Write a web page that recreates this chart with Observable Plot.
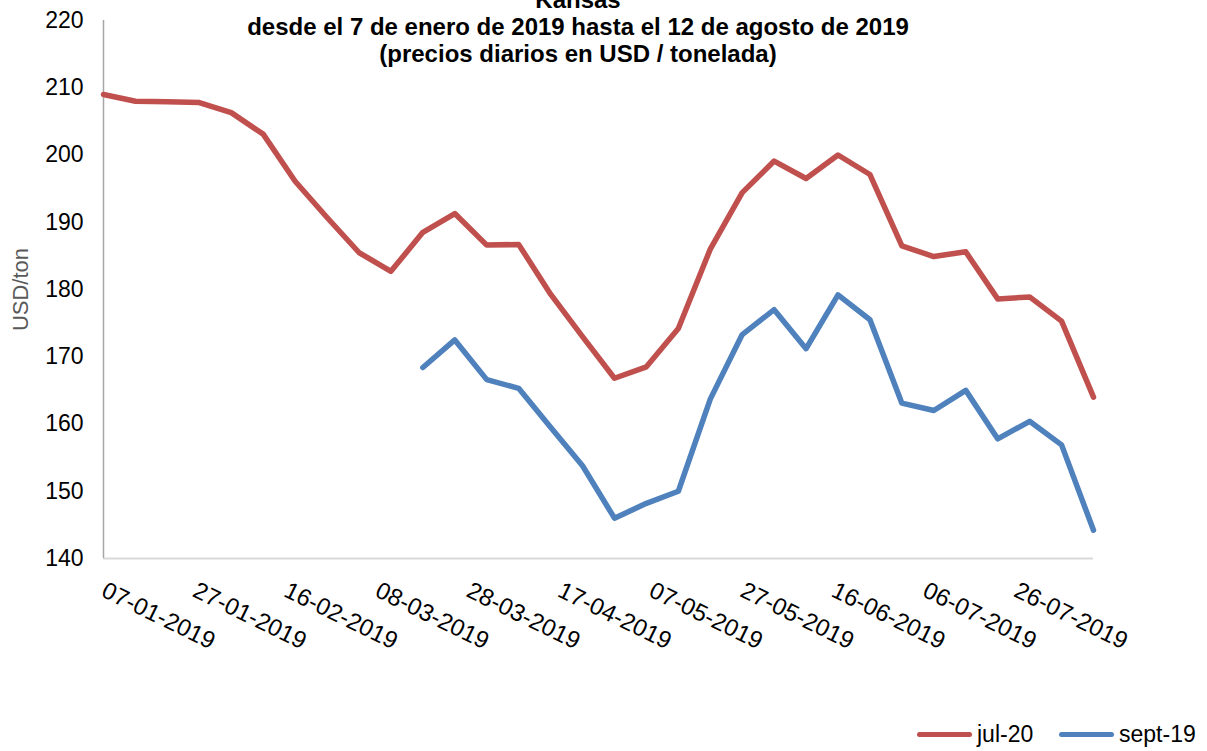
<!DOCTYPE html>
<html>
<head>
<meta charset="utf-8">
<script src="https://cdn.jsdelivr.net/npm/d3@7"></script>
<script src="https://cdn.jsdelivr.net/npm/@observablehq/plot@0.6"></script>
<style>
  html, body { margin: 0; padding: 0; background: #fff; }
  #wrap { position: relative; width: 1207px; height: 751px; overflow: hidden; font-family: "Liberation Sans", Arial, sans-serif; }
  #title { position: absolute; left: 0; top: -14px; width: 1156px; text-align: center; font-weight: bold; font-size: 24px; line-height: 27px; color: #000; white-space: nowrap; }
  .leg { position: absolute; top: 719px; height: 30px; display: flex; align-items: center; font-size: 23px; color: #000; white-space: nowrap; }
  .sw { display: inline-block; width: 55px; height: 5px; border-radius: 3px; margin-right: 5px; }
</style>
</head>
<body>
<div id="wrap">
  <div id="chart"></div>
  <div id="title"></div>
  <div id="legend"></div>
</div>
<script>
const titleLines = [
  "Kansas",
  "desde el 7 de enero de 2019 hasta el 12 de agosto de 2019",
  "(precios diarios en USD / tonelada)"
];
const yLabel = "USD/ton";

const dates = [
  "2019-01-07","2019-01-14","2019-01-21","2019-01-28","2019-02-04","2019-02-11","2019-02-18","2019-02-25",
  "2019-03-04","2019-03-11","2019-03-18","2019-03-25","2019-04-01","2019-04-08","2019-04-15","2019-04-22",
  "2019-04-29","2019-05-06","2019-05-13","2019-05-20","2019-05-27","2019-06-03","2019-06-10","2019-06-17",
  "2019-06-24","2019-07-01","2019-07-08","2019-07-15","2019-07-22","2019-07-29","2019-08-05","2019-08-12"
];

const seriesNames = ["jul-20", "sept-19"];
const seriesColors = ["#c0504d", "#4f81bd"];

const jul20 = [
  209.0, 208.0, 207.9, 207.8, 206.3, 203.1, 196.1, 190.7,
  185.5, 182.7, 188.5, 191.3, 186.6, 186.7, 179.3, 173.0,
  166.8, 168.5, 174.2, 186.0, 194.4, 199.1, 196.5, 200.0,
  197.1, 186.5, 184.9, 185.6, 178.6, 178.9, 175.3, 164.0
];
const sept19 = [
  null, null, null, null, null, null, null, null,
  null, null, 168.4, 172.5, 166.6, 165.3, 159.5, 153.8,
  146.0, 148.2, 150.0, 163.7, 173.3, 177.0, 171.2, 179.2,
  175.5, 163.1, 162.0, 165.0, 157.8, 160.4, 156.9, 144.2
];

const xTicks = [
  "2019-01-07","2019-01-27","2019-02-16","2019-03-08","2019-03-28","2019-04-17",
  "2019-05-07","2019-05-27","2019-06-16","2019-07-06","2019-07-26"
];
const yTicks = [140, 150, 160, 170, 180, 190, 200, 210, 220];

const parse = d3.utcParse("%Y-%m-%d");
const fmt = d3.utcFormat("%d-%m-%Y");
const seriesValues = [jul20, sept19];

const rows = [];
seriesNames.forEach((name, s) => {
  seriesValues[s].forEach((v, i) => {
    if (v != null) rows.push({ date: parse(dates[i]), value: v, series: name });
  });
});

const x0 = parse(dates[0]);
const x1 = parse(dates[dates.length - 1]);

const chart = Plot.plot({
  width: 1207,
  height: 700,
  marginLeft: 103,
  marginRight: 114,
  marginTop: 20,
  marginBottom: 142,
  style: { fontFamily: "'Liberation Sans', Arial, sans-serif", fontSize: "23px", color: "#000", background: "transparent", overflow: "visible" },
  x: { type: "utc", domain: [x0, x1] },
  y: { domain: [140, 220] },
  color: { domain: seriesNames, range: seriesColors },
  marks: [
    Plot.ruleY([140], { stroke: "#d9d9d9", strokeWidth: 2 }),
    Plot.ruleX([x0], { y1: 140, y2: 220, stroke: "#a6a6a6", strokeWidth: 1.5 }),
    Plot.axisY({ ticks: yTicks, tickSize: 0, tickPadding: 20, label: null, fontSize: 23, fill: "#000" }),
    Plot.axisX({ ticks: xTicks.map(parse), tickFormat: fmt, tickSize: 0, tickPadding: 22, dx: 4, tickRotate: 26, textAnchor: "start", lineAnchor: "top", label: null, fontSize: 24, fill: "#000" }),
    Plot.line(rows, { x: "date", y: "value", stroke: "series", z: "series", strokeWidth: 5.5, strokeLinejoin: "round", strokeLinecap: "round" }),
    Plot.text([yLabel], { frameAnchor: "left", dx: -83, rotate: -90, fontSize: 22, fill: "#595959", textAnchor: "middle", lineAnchor: "middle" })
  ]
});
document.getElementById("chart").appendChild(chart);

document.getElementById("title").innerHTML = titleLines.map(t => `<div>${t}</div>`).join("");

const legLefts = [917, 1059];
const legend = document.getElementById("legend");
seriesNames.forEach((name, i) => {
  const d = document.createElement("div");
  d.className = "leg";
  d.style.left = legLefts[i] + "px";
  d.innerHTML = `<span class="sw" style="background:${seriesColors[i]}"></span><span>${name}</span>`;
  legend.appendChild(d);
});
</script>
</body>
</html>
